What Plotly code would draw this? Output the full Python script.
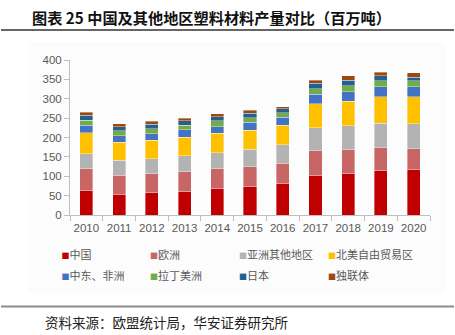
import plotly.graph_objects as go

years = ["2010", "2011", "2012", "2013", "2014", "2015", "2016", "2017", "2018", "2019", "2020"]
china = [62, 52, 57, 60, 68, 73, 81, 101, 107, 114, 118]
europe = [57, 50, 50, 52, 51, 52, 53, 65, 61, 59, 53]
asia_other = [39, 39, 38, 41, 42, 45, 47, 59, 62, 64, 65]
nafta = [54, 47, 48, 48, 50, 49, 51, 62, 64, 68, 69]
me_africa = [19, 16, 17, 19, 17, 20, 20, 24, 24, 26, 26]
latam = [13, 13, 12, 12, 15, 12, 12, 15, 16, 16, 16]
japan = [13, 11, 12, 11, 10, 11, 10, 14, 14, 12, 9]
cis = [8, 7, 8, 7, 8, 8, 5, 8, 12, 9, 11]

series_names = ["中国", "欧洲", "亚洲其他地区", "北美自由贸易区", "中东、非洲", "拉丁美洲", "日本", "独联体"]
series_values = [china, europe, asia_other, nafta, me_africa, latam, japan, cis]
colors = ["#C00000", "#C86666", "#B3B3B3", "#FFC000", "#4472C4", "#70AD47", "#255E91", "#9E480E"]
yticks = [0, 50, 100, 150, 200, 250, 300, 350, 400]

W, H = 455, 335
L, R, T, B = 70, 430, 60, 215

# paper == whole figure (zero margins), plot area set via axis domains
def fx(x):
    return x / W

def fy(y):
    return 1 - y / H

leg_cols = [65.5, 154, 243, 332]
leg_rows = [255, 276]

fig = go.Figure()
for name, vals, c in zip(series_names, series_values, colors):
    fig.add_trace(go.Bar(x=years, y=vals, name=name,
                         marker=dict(color=c, line=dict(color="rgba(255,255,255,0.6)", width=0.6)),
                         showlegend=False))

legends = {}
for i, (name, c) in enumerate(zip(series_names, colors)):
    key = "legend" if i == 0 else f"legend{i + 1}"
    fig.add_trace(go.Bar(x=[years[0]], y=[0], legend=key, showlegend=True, hoverinfo="skip",
                         marker=dict(color="rgba(0,0,0,0)", line=dict(width=0)),
                         name=f"<span style='color:{c};font-size:8px'>■</span>{name}"))
    cx = leg_cols[i % 4]
    cy = leg_rows[i // 4]
    legends[key] = dict(orientation="v", x=fx(cx - 44), y=fy(cy), xanchor="left", yanchor="middle",
                        font=dict(family="Noto Sans CJK SC", size=11, color="#595959"),
                        bgcolor="rgba(0,0,0,0)", borderwidth=0)

# decorative rules (title underline, footer rule)
rule_specs = [(30, "#333333", 1.5), (306.5, "#8c8c8c", 2)]
rule_shapes = [dict(type="line", xref="paper", yref="paper", x0=fx(1), x1=fx(454), y0=fy(ry), y1=fy(ry),
                    line=dict(color=rc, width=rw), layer="above")
               for ry, rc, rw in rule_specs]

fig.update_layout(
    width=W, height=H,
    margin=dict(l=0, r=0, t=0, b=0, pad=0, autoexpand=False),
    barmode="stack", bargap=0.6,
    paper_bgcolor="white", plot_bgcolor="rgba(0,0,0,0)",
    font=dict(family="Liberation Sans, Arial, sans-serif", color="#595959", size=11.5),
    xaxis=dict(type="category", domain=[fx(L), fx(R)], showline=True, linecolor="#bfbfbf", linewidth=1,
               ticks="outside", tickson="boundaries", ticklen=5, tickcolor="#bfbfbf",
               tickangle=0, showgrid=False, ticklabelstandoff=2,
               tickfont=dict(size=11.5, color="#595959")),
    yaxis=dict(range=[0, 400], domain=[fy(B), fy(T)], tickvals=yticks, showline=True,
               linecolor="#bfbfbf", linewidth=1,
               ticks="outside", ticklen=5, tickcolor="#bfbfbf", showgrid=False, zeroline=False,
               tickfont=dict(size=11.5, color="#595959")),
    shapes=[
        dict(type="rect", xref="paper", yref="paper", x0=fx(28), x1=fx(445), y0=fy(293), y1=fy(42),
             fillcolor="#fcfcfc", line=dict(color="rgba(0,0,0,0)", width=0), layer="below"),
    ] + rule_shapes,
    annotations=[
        dict(text="<b>图表 25 中国及其他地区塑料材料产量对比（百万吨）</b>", xref="paper", yref="paper",
             x=fx(30), y=fy(17), xanchor="left", yanchor="middle", showarrow=False,
             font=dict(family="Noto Sans CJK SC", size=15.2, color="#111111")),
        dict(text="资料来源：欧盟统计局，华安证券研究所", xref="paper", yref="paper",
             x=fx(43), y=fy(322), xanchor="left", yanchor="middle", showarrow=False,
             font=dict(family="Noto Sans CJK SC", size=13.5, color="#222222")),
    ],
    **legends,
)

fig.write_html("out.html")
